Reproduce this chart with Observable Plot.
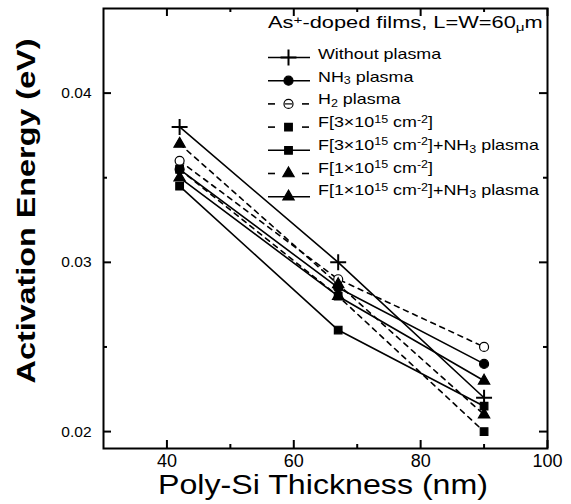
<!DOCTYPE html>
<html><head><meta charset="utf-8">
<script src="https://cdn.jsdelivr.net/npm/d3@7"></script>
<script src="https://cdn.jsdelivr.net/npm/@observablehq/plot@0.6"></script>
<style>
body{margin:0;background:#fff;}
#wrap{position:relative;width:571px;height:504px;overflow:hidden;}
#wrap svg{font-family:Arial,"Liberation Sans",sans-serif;}
</style></head><body><div id="wrap"></div>
<script>
// ---- data ----
const thickness = [42, 67, 90];
const withoutPlasma = [0.038, 0.030, 0.022];
const nh3Plasma     = [0.0355, 0.0285, 0.024];
const h2Plasma      = [0.036, 0.029, 0.025];
const f3e15         = [0.0355, 0.028, 0.020];
const f3e15Nh3      = [0.0345, 0.026, 0.0215];
const f1e15         = [0.037, 0.0287, 0.021];
const f1e15Nh3      = [0.035, 0.028, 0.023];
const xMajorTicks = [40, 60, 80, 100];
const xMinorTicks = [50, 70, 90];
const yMajorTicks = [0.02, 0.03, 0.04];
const yMinorTicks = [0.025, 0.035];
const xLabel = "Poly-Si Thickness (nm)";
const yLabel = "Activation Energy (eV)";

// series: name, values, symbol, dashed, open
const series = [
  {name: "Without plasma", values: withoutPlasma, symbol: "plus", dashed: false, open: false,
   label: [["Without plasma"]]},
  {name: "NH3 plasma", values: nh3Plasma, symbol: "circle", dashed: false, open: false,
   label: [["NH"], ["3", "sub"], [" plasma"]]},
  {name: "H2 plasma", values: h2Plasma, symbol: "circle", dashed: true, open: true,
   label: [["H"], ["2", "sub"], [" plasma"]]},
  {name: "F[3e15]", values: f3e15, symbol: "square", dashed: true, open: false,
   label: [["F[3×10"], ["15", "sup"], [" cm"], ["-2", "sup"], ["]"]]},
  {name: "F[3e15]+NH3", values: f3e15Nh3, symbol: "square", dashed: false, open: false,
   label: [["F[3×10"], ["15", "sup"], [" cm"], ["-2", "sup"], ["]+NH"], ["3", "sub"], [" plasma"]]},
  {name: "F[1e15]", values: f1e15, symbol: "triangle", dashed: true, open: false,
   label: [["F[1×10"], ["15", "sup"], [" cm"], ["-2", "sup"], ["]"]]},
  {name: "F[1e15]+NH3", values: f1e15Nh3, symbol: "triangle", dashed: false, open: false,
   label: [["F[1×10"], ["15", "sup"], [" cm"], ["-2", "sup"], ["]+NH"], ["3", "sub"], [" plasma"]]},
];

const rows = series.flatMap(s => thickness.map((t, i) => ({series: s.name, x: t, y: s.values[i]})));

const W = 571, H = 504, mL = 103, mR = 24, mT = 8, mB = 56;
const ih = H - mT - mB, iw = W - mL - mR;
const symR = {plus: 5.2, circle: 4.5, square: 4.3, triangle: 4.2};

const marks = [
  Plot.axisX(xMajorTicks, {tickSize: 0, tickPadding: 6, fontSize: 18, label: null}),
  Plot.axisY(yMajorTicks, {tickSize: 0, tickPadding: 12, fontSize: 15.5, label: null, tickFormat: d => d.toFixed(2)}),
  // inward ticks on all four sides
  Plot.ruleX(xMajorTicks, {x: d => d, insetTop: ih - 8, strokeWidth: 2}),
  Plot.ruleX(xMinorTicks, {x: d => d, insetTop: ih - 4, strokeWidth: 2}),
  Plot.ruleX(xMajorTicks, {x: d => d, insetBottom: ih - 8, strokeWidth: 2}),
  Plot.ruleX(xMinorTicks, {x: d => d, insetBottom: ih - 4, strokeWidth: 2}),
  Plot.ruleY(yMajorTicks, {y: d => d, insetRight: iw - 8, strokeWidth: 2}),
  Plot.ruleY(yMinorTicks, {y: d => d, insetRight: iw - 4, strokeWidth: 2}),
  Plot.ruleY(yMajorTicks, {y: d => d, insetLeft: iw - 8, strokeWidth: 2}),
  Plot.ruleY(yMinorTicks, {y: d => d, insetLeft: iw - 4, strokeWidth: 2}),
  Plot.line(rows.filter(r => !series.find(s => s.name === r.series).dashed),
    {x: "x", y: "y", z: "series", stroke: "black", strokeWidth: 1.6}),
  Plot.line(rows.filter(r => series.find(s => s.name === r.series).dashed),
    {x: "x", y: "y", z: "series", stroke: "black", strokeWidth: 1.6, strokeDasharray: "5,5"}),
  ...series.map(s => Plot.dot(rows.filter(r => r.series === s.name), {
    x: "x", y: "y", symbol: s.symbol, r: symR[s.symbol],
    fill: s.symbol === "plus" ? "none" : (s.open ? "white" : "black"),
    stroke: "black", strokeWidth: s.symbol === "plus" ? 2 : 1.2
  })),
  Plot.frame({strokeWidth: 2})
];

const chart = Plot.plot({
  width: W, height: H,
  marginLeft: mL, marginRight: mR, marginTop: mT, marginBottom: mB,
  x: {domain: [30, 100]},
  y: {domain: [0.019, 0.045]},
  style: {fontFamily: "Arial, 'Liberation Sans', sans-serif", background: "white", color: "black"},
  marks
});
document.getElementById("wrap").appendChild(chart);

// ---- axis labels & legend (text) ----
const svg = d3.select(chart);
function makeText(g, parts, fontSize, weight, anchor) {
  const t = g.append("text").attr("font-size", fontSize).attr("font-weight", weight)
    .attr("text-anchor", anchor).attr("fill", "black");
  parts.forEach(([txt, kind]) => {
    const ts = t.append("tspan").text(txt);
    if (kind === "sub") ts.attr("font-size", fontSize * 0.7).attr("baseline-shift", "-25%");
    if (kind === "sup") ts.attr("font-size", fontSize * 0.7).attr("baseline-shift", "40%");
  });
  return t;
}
function placeScaled(parent, x, y, rot, parts, fontSize, weight, anchor, targetW, scaleOverride) {
  const g = parent.append("g");
  const t = makeText(g, parts, fontSize, weight, anchor);
  const w = t.node().getBBox().width;
  const s = scaleOverride || (targetW / w);
  g.attr("transform", `translate(${x},${y}) rotate(${rot}) scale(${s},1)`);
  return s;
}
placeScaled(svg, 323, 494, 0, [[xLabel]], 27, "normal", "middle", 330);
placeScaled(svg, 35, 211, -90, [[yLabel]], 25, "bold", "middle", 345);

// legend
const leg = svg.append("g");
placeScaled(leg, 268, 28.3, 0, [["As"], ["+", "sup"], ["-doped films, L=W=60"], ["μ", "sub"], ["m"]], 16, "normal", "start", 275);
let entryScale = null;
series.forEach((s, i) => {
  const my = 57.5 + 23.2 * i;
  const ty = 53.5 + 22.75 * i + 5.4;
  if (s.dashed) {
    leg.append("line").attr("x1", 268).attr("x2", 275).attr("y1", my).attr("y2", my).attr("stroke", "black").attr("stroke-width", 1.6);
    leg.append("line").attr("x1", 302).attr("x2", 309).attr("y1", my).attr("y2", my).attr("stroke", "black").attr("stroke-width", 1.6);
  } else {
    leg.append("line").attr("x1", 268).attr("x2", 310).attr("y1", my).attr("y2", my).attr("stroke", "black").attr("stroke-width", 1.6);
  }
  const sym = {plus: d3.symbolPlus, circle: d3.symbolCircle, square: d3.symbolSquare, triangle: d3.symbolTriangle}[s.symbol];
  const size = Math.PI * symR[s.symbol] ** 2;
  leg.append("path").attr("d", d3.symbol(sym, size)()).attr("transform", `translate(288.5,${my})`)
    .attr("fill", s.symbol === "plus" ? "none" : (s.open ? "white" : "black"))
    .attr("stroke", "black").attr("stroke-width", s.symbol === "plus" ? 2 : 1.2);
  if (s.open) leg.append("line").attr("x1", 285).attr("x2", 292).attr("y1", my).attr("y2", my).attr("stroke", "black").attr("stroke-width", 1.2);
  if (i === 0) entryScale = placeScaled(leg, 318, ty, 0, s.label, 15, "normal", "start", 124);
  else placeScaled(leg, 318, ty, 0, s.label, 15, "normal", "start", 0, entryScale);
});
</script></body></html>
